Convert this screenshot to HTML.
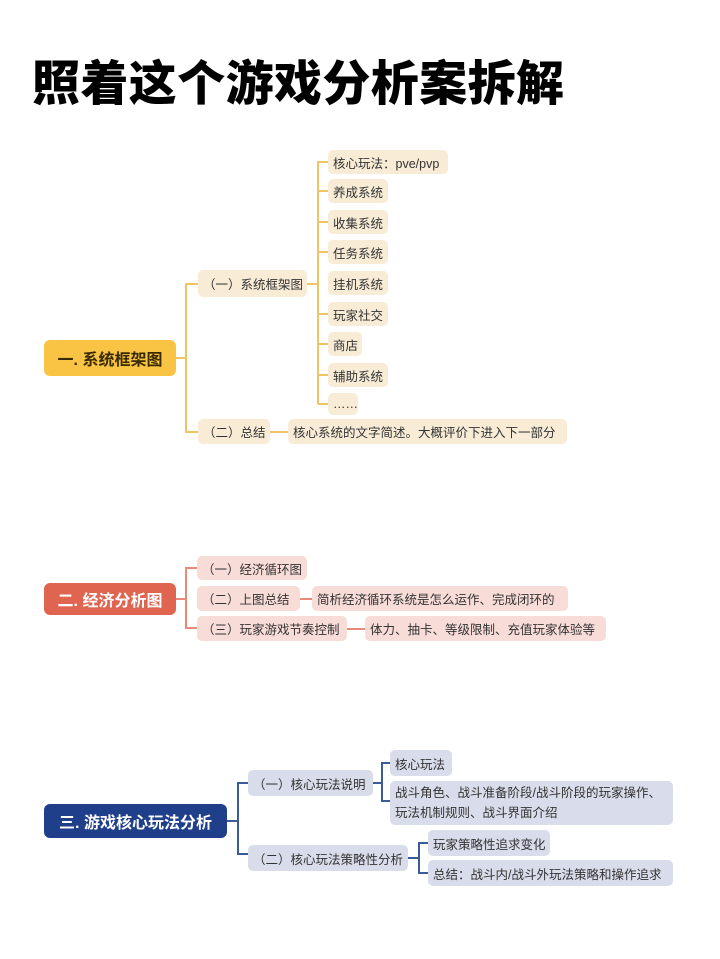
<!DOCTYPE html>
<html><head><meta charset="utf-8"><style>
body{margin:0;width:720px;height:959px;background:#fff;position:relative;overflow:hidden;font-family:"Liberation Sans","Noto Sans CJK SC",sans-serif;}
.t{position:absolute;left:32px;top:52px;font-size:48px;font-weight:900;color:#000;letter-spacing:0.4px;white-space:nowrap;line-height:66px;}
.b{position:absolute;display:flex;align-items:center;box-sizing:border-box;padding-left:5px;border-radius:5px;font-size:12.5px;color:#333;white-space:nowrap;}
.y{background:#f8ecd6;}
.p{background:#f8dcd8;}
.n{background:#d9dcea;}
.r{position:absolute;display:flex;align-items:center;justify-content:center;border-radius:6px;font-size:16px;font-weight:bold;white-space:nowrap;}
.l{position:absolute;}
</style></head><body>
<div class="t">照着这个游戏分析案拆解</div>

<!-- Section 1 -->
<div class="r" style="left:44px;top:340px;width:132px;height:36px;background:#f9c444;color:#3a2a00;">一. 系统框架图</div>
<div class="l" style="left:176px;top:357px;width:10px;height:2px;background:#f0c462"></div>
<div class="l" style="left:185px;top:283px;width:2px;height:150px;background:#f0c462"></div>
<div class="l" style="left:185px;top:283px;width:13px;height:2px;background:#f0c462"></div>
<div class="l" style="left:185px;top:431px;width:13px;height:2px;background:#f0c462"></div>
<div class="b y" style="left:198px;top:270px;width:109px;height:27px;">（一）系统框架图</div>
<div class="l" style="left:307px;top:283px;width:11px;height:2px;background:#f0c462"></div>
<div class="l" style="left:317px;top:161px;width:2px;height:243px;background:#f0c462"></div>
<div class="b y" style="left:328px;top:150px;width:120px;height:24px;">核心玩法：pve/pvp</div>
<div class="b y" style="left:328px;top:179px;width:60px;height:24px;">养成系统</div>
<div class="b y" style="left:328px;top:210px;width:60px;height:24px;">收集系统</div>
<div class="b y" style="left:328px;top:240px;width:60px;height:24px;">任务系统</div>
<div class="b y" style="left:328px;top:271px;width:60px;height:24px;">挂机系统</div>
<div class="b y" style="left:328px;top:302px;width:60px;height:24px;">玩家社交</div>
<div class="b y" style="left:328px;top:332px;width:34px;height:24px;">商店</div>
<div class="b y" style="left:328px;top:363px;width:60px;height:24px;">辅助系统</div>
<div class="b y" style="left:328px;top:393px;width:30px;height:22px;">……</div>
<div class="l" style="left:318px;top:161px;width:10px;height:2px;background:#f0c462"></div>
<div class="l" style="left:318px;top:190px;width:10px;height:2px;background:#f0c462"></div>
<div class="l" style="left:318px;top:221px;width:10px;height:2px;background:#f0c462"></div>
<div class="l" style="left:318px;top:251px;width:10px;height:2px;background:#f0c462"></div>
<div class="l" style="left:318px;top:313px;width:10px;height:2px;background:#f0c462"></div>
<div class="l" style="left:318px;top:343px;width:10px;height:2px;background:#f0c462"></div>
<div class="l" style="left:318px;top:374px;width:10px;height:2px;background:#f0c462"></div>
<div class="l" style="left:318px;top:403px;width:10px;height:2px;background:#f0c462"></div>
<div class="b y" style="left:198px;top:419px;width:72px;height:25px;">（二）总结</div>
<div class="l" style="left:270px;top:431px;width:18px;height:2px;background:#f0c462"></div>
<div class="b y" style="left:288px;top:419px;width:279px;height:25px;">核心系统的文字简述。大概评价下进入下一部分</div>

<!-- Section 2 -->
<div class="r" style="left:44px;top:583px;width:132px;height:32px;background:#df6550;color:#fff;">二. 经济分析图</div>
<div class="l" style="left:176px;top:598px;width:10px;height:2px;background:#e88a7a"></div>
<div class="l" style="left:185px;top:567px;width:2px;height:62px;background:#e88a7a"></div>
<div class="l" style="left:185px;top:567px;width:12px;height:2px;background:#e88a7a"></div>
<div class="l" style="left:185px;top:627px;width:12px;height:2px;background:#e88a7a"></div>
<div class="b p" style="left:197px;top:556px;width:110px;height:24px;">（一）经济循环图</div>
<div class="b p" style="left:197px;top:586px;width:103px;height:25px;">（二）上图总结</div>
<div class="l" style="left:300px;top:598px;width:12px;height:2px;background:#e88a7a"></div>
<div class="b p" style="left:312px;top:586px;width:256px;height:25px;">简析经济循环系统是怎么运作、完成闭环的</div>
<div class="b p" style="left:197px;top:616px;width:150px;height:25px;">（三）玩家游戏节奏控制</div>
<div class="l" style="left:347px;top:628px;width:18px;height:2px;background:#e88a7a"></div>
<div class="b p" style="left:365px;top:616px;width:241px;height:25px;">体力、抽卡、等级限制、充值玩家体验等</div>

<!-- Section 3 -->
<div class="r" style="left:44px;top:804px;width:183px;height:34px;background:#1f3f8a;color:#fff;">三. 游戏核心玩法分析</div>
<div class="l" style="left:227px;top:820px;width:11px;height:2px;background:#3b5a9a"></div>
<div class="l" style="left:237px;top:782px;width:2px;height:73px;background:#3b5a9a"></div>
<div class="l" style="left:237px;top:782px;width:11px;height:2px;background:#3b5a9a"></div>
<div class="l" style="left:237px;top:853px;width:11px;height:2px;background:#3b5a9a"></div>
<div class="b n" style="left:248px;top:770px;width:125px;height:26px;">（一）核心玩法说明</div>
<div class="l" style="left:373px;top:782px;width:9px;height:2px;background:#3b5a9a"></div>
<div class="l" style="left:381px;top:762px;width:2px;height:40px;background:#3b5a9a"></div>
<div class="l" style="left:381px;top:762px;width:9px;height:2px;background:#3b5a9a"></div>
<div class="l" style="left:381px;top:800px;width:9px;height:2px;background:#3b5a9a"></div>
<div class="b n" style="left:390px;top:750px;width:62px;height:26px;">核心玩法</div>
<div class="b n" style="left:390px;top:781px;width:283px;height:44px;line-height:20px;">战斗角色、战斗准备阶段/战斗阶段的玩家操作、<br>玩法机制规则、战斗界面介绍</div>
<div class="b n" style="left:248px;top:845px;width:160px;height:26px;">（二）核心玩法策略性分析</div>
<div class="l" style="left:408px;top:857px;width:11px;height:2px;background:#3b5a9a"></div>
<div class="l" style="left:418px;top:842px;width:2px;height:32px;background:#3b5a9a"></div>
<div class="l" style="left:418px;top:842px;width:10px;height:2px;background:#3b5a9a"></div>
<div class="l" style="left:418px;top:872px;width:10px;height:2px;background:#3b5a9a"></div>
<div class="b n" style="left:428px;top:830px;width:122px;height:26px;">玩家策略性追求变化</div>
<div class="b n" style="left:428px;top:860px;width:245px;height:26px;">总结：战斗内/战斗外玩法策略和操作追求</div>
</body></html>
